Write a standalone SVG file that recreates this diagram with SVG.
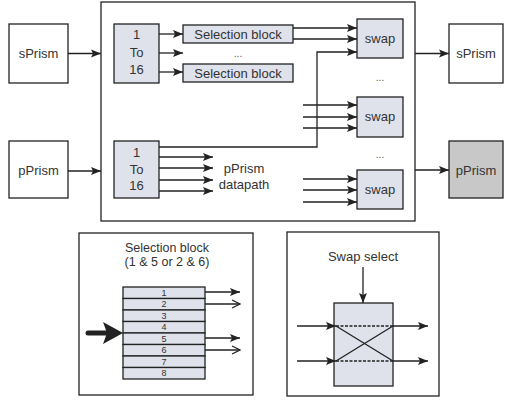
<svg xmlns="http://www.w3.org/2000/svg" width="505" height="400" viewBox="0 0 505 400">
  <defs>
    <marker id="ah" markerUnits="userSpaceOnUse" markerWidth="10" markerHeight="10" viewBox="0 0 10 10" refX="10" refY="5" orient="auto">
      <path d="M0,1 L10,5 L0,9 L2,5 Z" fill="#222"/>
    </marker>
    <marker id="ahOpen" markerUnits="userSpaceOnUse" markerWidth="10" markerHeight="10" viewBox="0 0 10 10" refX="9" refY="5" orient="auto">
      <path d="M1,1 L9,5 L1,9" fill="none" stroke="#222" stroke-width="1.3"/>
    </marker>
  </defs>
  <style>
    .box { fill: #ffffff; stroke: #222; stroke-width: 1.3; }
    .blk { fill: #dfe2eb; stroke: #222; stroke-width: 1.3; }
    .gray { fill: #c8c8c8; stroke: #222; stroke-width: 1.3; }
    .lbl { font-family: "Liberation Sans", Arial, sans-serif; font-size: 13px; fill: #333; text-anchor: middle; }
    .ttl { font-family: "Liberation Sans", Arial, sans-serif; font-size: 12.5px; fill: #333; text-anchor: middle; }
    .num { font-family: "Liberation Sans", Arial, sans-serif; font-size: 9px; fill: #333; text-anchor: middle; }
    .dots { font-family: "Liberation Sans", Arial, sans-serif; font-size: 10px; fill: #555; text-anchor: middle; }
    .ln { fill: none; stroke: #222; stroke-width: 1.3; }
    .arr { fill: none; stroke: #222; stroke-width: 1.3; marker-end: url(#ah); }
    .arrO { fill: none; stroke: #222; stroke-width: 1.3; marker-end: url(#ahOpen); }
    .dash { fill: none; stroke: #222; stroke-width: 1.3; stroke-dasharray: 3 1.5; }
  </style>

  <!-- main processing container -->
  <g id="container">
    <rect class="box" x="101" y="2" width="314" height="219"/>
  </g>

  <!-- inputs -->
  <g id="sPrism-in">
    <rect class="box" x="9" y="24" width="59" height="59"/>
    <text class="lbl" x="38.5" y="58">sPrism</text>
  </g>
  <g id="pPrism-in">
    <rect class="box" x="9" y="141" width="59" height="57"/>
    <text class="lbl" x="38.5" y="175">pPrism</text>
  </g>

  <!-- outputs -->
  <g id="sPrism-out">
    <rect class="box" x="449" y="24" width="54" height="59"/>
    <text class="lbl" x="476" y="58">sPrism</text>
  </g>
  <g id="pPrism-out">
    <rect class="gray" x="449" y="141" width="54" height="57"/>
    <text class="lbl" x="476" y="175">pPrism</text>
  </g>

  <!-- demultiplexers -->
  <g id="demux-s">
    <rect class="blk" x="114" y="24" width="45" height="59"/>
    <text class="lbl" x="136.5" y="39">1</text>
    <text class="lbl" x="136.5" y="57">To</text>
    <text class="lbl" x="136.5" y="74">16</text>
  </g>
  <g id="demux-p">
    <rect class="blk" x="114" y="141" width="45" height="57"/>
    <text class="lbl" x="136.5" y="157">1</text>
    <text class="lbl" x="136.5" y="174">To</text>
    <text class="lbl" x="136.5" y="190">16</text>
  </g>

  <!-- selection blocks -->
  <g id="sel-1">
    <rect class="blk" x="183" y="25" width="110" height="18"/>
    <text class="lbl" x="238" y="38.5">Selection block</text>
  </g>
  <text class="dots" x="238" y="57">...</text>
  <g id="sel-16">
    <rect class="blk" x="183" y="64" width="110" height="18"/>
    <text class="lbl" x="238" y="77.5">Selection block</text>
  </g>

  <!-- swap units -->
  <g id="swap-1">
    <rect class="blk" x="357" y="19" width="46" height="39"/>
    <text class="lbl" x="380" y="43">swap</text>
  </g>
  <text class="dots" x="380" y="81">...</text>
  <g id="swap-2">
    <rect class="blk" x="357" y="97" width="46" height="40"/>
    <text class="lbl" x="380" y="121">swap</text>
  </g>
  <text class="dots" x="380" y="158">...</text>
  <g id="swap-3">
    <rect class="blk" x="357" y="170" width="46" height="39"/>
    <text class="lbl" x="380" y="194">swap</text>
  </g>

  <text class="lbl" x="244" y="173">pPrism</text>
  <text class="lbl" x="244" y="189">datapath</text>

  <!-- connectors -->
  <g id="connectors">
    <line class="arr" x1="68" y1="53.5" x2="101" y2="53.5"/>
    <line class="arr" x1="68" y1="171" x2="101" y2="171"/>
    <line class="arr" x1="415" y1="53.5" x2="449" y2="53.5"/>
    <line class="arr" x1="415" y1="170" x2="449" y2="170"/>

    <line class="arr" x1="159" y1="34" x2="183" y2="34"/>
    <line class="arr" x1="159" y1="53" x2="183" y2="53"/>
    <line class="arr" x1="159" y1="72" x2="183" y2="72"/>

    <line class="arr" x1="293" y1="28" x2="357" y2="28"/>
    <line class="arr" x1="293" y1="39" x2="357" y2="39"/>
    <polyline class="arr" points="159,147 317,147 317,52 357,52"/>

    <line class="arr" x1="303" y1="105" x2="357" y2="105"/>
    <line class="arr" x1="303" y1="117" x2="357" y2="117"/>
    <line class="arr" x1="303" y1="128" x2="357" y2="128"/>

    <line class="arr" x1="303" y1="179" x2="357" y2="179"/>
    <line class="arr" x1="303" y1="190" x2="357" y2="190"/>
    <line class="arr" x1="303" y1="202" x2="357" y2="202"/>

    <line class="arr" x1="159" y1="157" x2="213" y2="157"/>
    <line class="arr" x1="159" y1="168" x2="213" y2="168"/>
    <line class="arr" x1="159" y1="180" x2="213" y2="180"/>
    <line class="arr" x1="159" y1="191" x2="213" y2="191"/>
  </g>

  <!-- detail: selection block -->
  <g id="detail-selection">
    <rect class="box" x="79" y="233" width="174" height="162"/>
    <text class="ttl" x="167" y="252">Selection block</text>
    <text class="ttl" x="167" y="266">(1 &amp; 5 or 2 &amp; 6)</text>
    <g id="stack">
      <rect class="blk" x="123" y="287" width="82" height="11.5"/>
      <rect class="blk" x="123" y="298.5" width="82" height="11.5"/>
      <rect class="blk" x="123" y="310" width="82" height="11.5"/>
      <rect class="blk" x="123" y="321.5" width="82" height="11.5"/>
      <rect class="blk" x="123" y="333" width="82" height="11.5"/>
      <rect class="blk" x="123" y="344.5" width="82" height="11.5"/>
      <rect class="blk" x="123" y="356" width="82" height="11.5"/>
      <rect class="blk" x="123" y="367.5" width="82" height="11.5"/>
      <text class="num" x="164" y="295.5">1</text>
      <text class="num" x="164" y="307">2</text>
      <text class="num" x="164" y="318.5">3</text>
      <text class="num" x="164" y="330">4</text>
      <text class="num" x="164" y="341.5">5</text>
      <text class="num" x="164" y="353">6</text>
      <text class="num" x="164" y="364.5">7</text>
      <text class="num" x="164" y="376">8</text>
    </g>
    <line x1="88" y1="333" x2="108" y2="333" stroke="#222" stroke-width="5" stroke-linecap="round"/>
    <path d="M103,322 L123,333 L103,344 L107,333 Z" fill="#222"/>
    <line class="arr" x1="205" y1="292" x2="240" y2="292"/>
    <line class="arrO" x1="205" y1="304" x2="240" y2="304"/>
    <line class="arr" x1="205" y1="338" x2="240" y2="338"/>
    <line class="arrO" x1="205" y1="350" x2="240" y2="350"/>
  </g>

  <!-- detail: swap -->
  <g id="detail-swap">
    <rect class="box" x="287" y="232" width="152" height="164"/>
    <text class="lbl" x="363" y="261">Swap select</text>
    <rect class="blk" x="334" y="303" width="59" height="83"/>
    <line class="arr" x1="363" y1="267" x2="363" y2="303"/>
    <line class="arr" x1="297" y1="326" x2="336" y2="326"/>
    <line class="arr" x1="297" y1="361" x2="336" y2="361"/>
    <line class="dash" x1="336" y1="326" x2="393" y2="326"/>
    <line class="dash" x1="336" y1="361" x2="393" y2="361"/>
    <line class="ln" x1="336" y1="326" x2="393" y2="361" stroke-width="1"/>
    <line class="ln" x1="336" y1="361" x2="393" y2="326" stroke-width="1"/>
    <line class="arr" x1="393" y1="326" x2="428" y2="326"/>
    <line class="arr" x1="393" y1="361" x2="428" y2="361"/>
  </g>
</svg>
